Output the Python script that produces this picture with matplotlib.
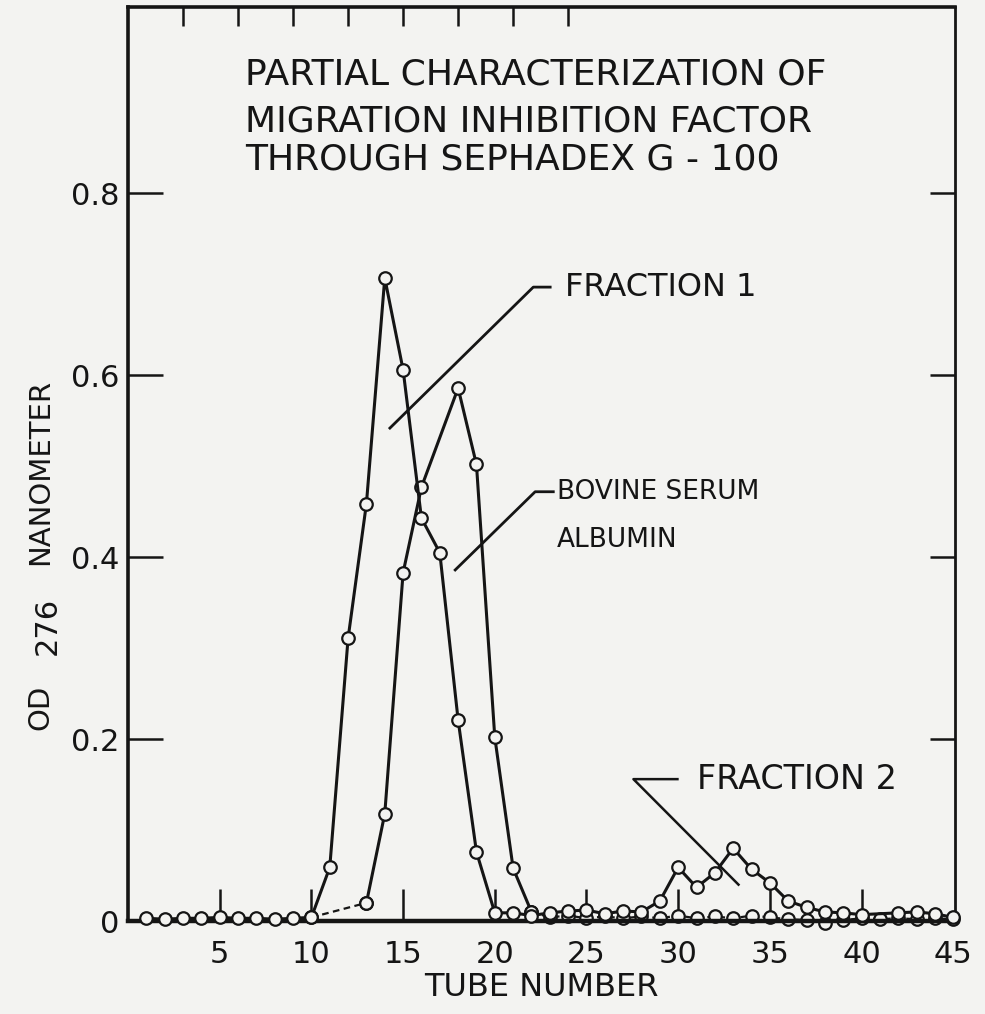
import matplotlib.pyplot as plt
import numpy as np

plt.rcParams['font.family'] = ['DejaVu Sans']

# values (OD at 276 nm per tube)
frac_tubes = [1, 2, 3, 4, 5, 6, 7, 8, 9, 10, 11, 12, 13, 14, 15, 16, 17, 18, 19, 20,
              21, 22, 23, 24, 25, 26, 27, 28, 29, 30, 31, 32, 33, 34, 35, 36, 37, 38,
              39, 40, 42, 43, 44, 45]
frac_od = [0.003, 0.002, 0.003, 0.003, 0.004, 0.003, 0.003, 0.002, 0.003, 0.004,
           0.059, 0.311, 0.459, 0.707, 0.606, 0.443, 0.405, 0.221, 0.076, 0.009,
           0.009, 0.006, 0.009, 0.011, 0.012, 0.008, 0.011, 0.010, 0.022, 0.059,
           0.037, 0.053, 0.080, 0.057, 0.042, 0.022, 0.015, 0.010, 0.009, 0.007,
           0.009, 0.010, 0.008, 0.004]

bsa_tubes = [10, 13, 14, 15, 16, 18, 19, 20, 21, 22, 23, 24, 25, 26, 27, 28, 29, 30,
             31, 32, 33, 34, 35, 36, 37, 38, 39, 40, 41, 42, 43, 44, 45]
bsa_od = [0.004, 0.020, 0.118, 0.383, 0.477, 0.586, 0.502, 0.202, 0.058, 0.010,
          0.004, 0.006, 0.003, 0.005, 0.003, 0.005, 0.003, 0.006, 0.003, 0.005,
          0.003, 0.006, 0.004, 0.002, 0.001, -0.002, 0.001, 0.003, 0.002, 0.003,
          0.002, 0.003, 0.002]

x_ticks = [5, 10, 15, 20, 25, 30, 35, 40, 45]
y_ticks = [0, 0.2, 0.4, 0.6, 0.8]
top_ticks = [3, 6, 9, 12, 15, 18, 21, 24]

title_lines = ['PARTIAL CHARACTERIZATION OF',
               'MIGRATION INHIBITION FACTOR',
               'THROUGH SEPHADEX G - 100']

ink = '#151515'
paper = '#f3f3f1'

fig = plt.figure(figsize=(9.85, 10.14), dpi=100, facecolor=paper)
ax = fig.add_axes([0.130, 0.0917, 0.8396, 0.9014], facecolor=paper)

mk = dict(marker='o', ms=9, mfc=paper, mec=ink, mew=1.6, color=ink, clip_on=False)

# fraction curve (solid)
ax.plot(frac_tubes, frac_od, lw=2.2, zorder=3, **mk)

# bovine serum albumin: dashed along the baseline, solid over the peak
bt = np.array(bsa_tubes)
bo = np.array(bsa_od)
lo = bt <= 13
mid = (bt >= 13) & (bt <= 22)
hi = bt >= 22
ax.plot(bt[lo], bo[lo], lw=1.6, ls=(0, (3, 2)), zorder=2, **mk)
ax.plot(bt[mid], bo[mid], lw=2.2, zorder=2, **mk)
ax.plot(bt[hi], bo[hi], lw=1.6, ls=(0, (3, 2)), zorder=2, **mk)

ax.set_xlim(0, 45.1)
ax.set_ylim(0, 1.005)

ax.set_xticks(x_ticks)
ax.set_xticklabels([str(t) for t in x_ticks])
ax.set_yticks(y_ticks)
ax.set_yticklabels(['0', '0.2', '0.4', '0.6', '0.8'])

ax.tick_params(axis='x', direction='in', length=23, width=1.8, colors=ink,
               labelsize=22, pad=14)
ax.tick_params(axis='y', direction='in', length=25, width=1.8, colors=ink,
               labelsize=22, pad=6, right=True)
for t in ax.yaxis.get_major_ticks():
    t.tick2line.set_markersize(18)
ax.yaxis.get_major_ticks()[0].tick1line.set_visible(False)
ax.yaxis.get_major_ticks()[0].tick2line.set_visible(False)
ax.xaxis.get_major_ticks()[-1].tick1line.set_visible(False)

top = ax.secondary_xaxis('top')
top.set_xticks(top_ticks)
top.tick_params(direction='in', length=14, width=1.8, colors=ink, labeltop=False)
top.spines['top'].set_visible(False)

for side, w in [('left', 2.6), ('bottom', 3.2), ('right', 2.0), ('top', 2.6)]:
    ax.spines[side].set_linewidth(w)
    ax.spines[side].set_color(ink)

ax.set_xlabel('TUBE NUMBER', fontsize=23, color=ink)
ax.xaxis.set_label_coords(0.5, -0.056)

# y label: OD, lowered 276, NANOMETER (as lettered on the original)
fig.text(40 / 985, 1 - 707 / 1014, 'OD', rotation=90, fontsize=21, color=ink,
         ha='center', va='center')
fig.text(47 / 985, 1 - 626 / 1014, '276', rotation=90, fontsize=22, color=ink,
         ha='center', va='center')
fig.text(40 / 985, 1 - 472 / 1014, 'NANOMETER', rotation=90, fontsize=21, color=ink,
         ha='center', va='center')

for line, y in zip(title_lines, [0.931, 0.879, 0.837]):
    ax.text(6.37, y, line, fontsize=26, color=ink, va='center', ha='left')

# leader lines and labels
ax.plot([14.28, 22.10, 23.02], [0.542, 0.697, 0.697], color=ink, lw=2)
ax.text(23.85, 0.697, 'FRACTION 1', fontsize=23, color=ink, va='center')

ax.plot([17.84, 22.2, 23.19], [0.386, 0.472, 0.472], color=ink, lw=2)
ax.text(23.4, 0.472, 'BOVINE SERUM', fontsize=19, color=ink, va='center')
ax.text(23.4, 0.419, 'ALBUMIN', fontsize=19, color=ink, va='center')

ax.plot([33.29, 27.56, 29.96], [0.040, 0.156, 0.156], color=ink, lw=1.8)
ax.text(31.05, 0.156, 'FRACTION 2', fontsize=24, color=ink, va='center')

fig.savefig('out.png', dpi=100, facecolor=paper)
